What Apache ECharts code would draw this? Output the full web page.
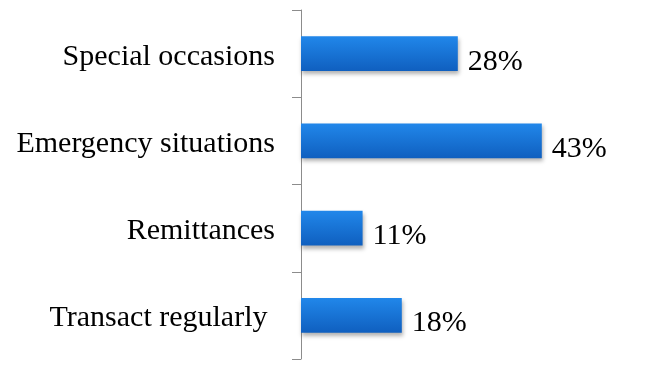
<!DOCTYPE html>
<html>
<head>
<meta charset="utf-8">
<script src="https://cdn.jsdelivr.net/npm/echarts@6/dist/echarts.min.js"></script>
<style>html,body{margin:0;padding:0;background:#fff}#c{width:646px;height:380px}</style>
</head>
<body>
<div id="c"></div>
<script>
const categories = ["Transact regularly ", "Remittances", "Emergency situations", "Special occasions"];
const values = [18, 11, 43, 28];

const chart = echarts.init(document.getElementById('c'), null, {renderer: 'canvas'});
chart.setOption({
  animation: false,
  backgroundColor: '#ffffff',
  grid: {left: 301, right: 9, top: 10, bottom: 21, containLabel: false},
  xAxis: {
    type: 'value', min: 0, max: 60, show: false
  },
  yAxis: {
    type: 'category',
    data: categories,
    axisLine: {show: true, lineStyle: {color: '#8c8c8c', width: 1}},
    axisTick: {show: true, length: 9, alignWithLabel: false, lineStyle: {color: '#8c8c8c'}},
    axisLabel: {
      margin: 26,
      formatter: function (v) { return '{a|' + v + '}'; },
      rich: {
        a: {
          fontFamily: 'Liberation Serif, Times New Roman, serif',
          fontSize: 30,
          color: '#000',
          padding: [6, 0, 0, 0]
        }
      }
    },
    splitLine: {show: false}
  },
  series: [{
    type: 'bar',
    data: values,
    barWidth: '40%',
    itemStyle: {
      color: new echarts.graphic.LinearGradient(0, 0, 0, 1, [
        {offset: 0, color: '#2187ea'},
        {offset: 1, color: '#0f5fbf'}
      ]),
      shadowColor: 'rgba(0,0,0,0.3)',
      shadowBlur: 4,
      shadowOffsetY: 3,
      shadowOffsetX: 1
    },
    label: {
      show: true,
      position: 'right',
      distance: 10,
      offset: [0, 8],
      formatter: '{c}%',
      fontFamily: 'Liberation Serif, Times New Roman, serif',
      fontSize: 30,
      color: '#000'
    }
  }]
});
</script>
</body>
</html>
